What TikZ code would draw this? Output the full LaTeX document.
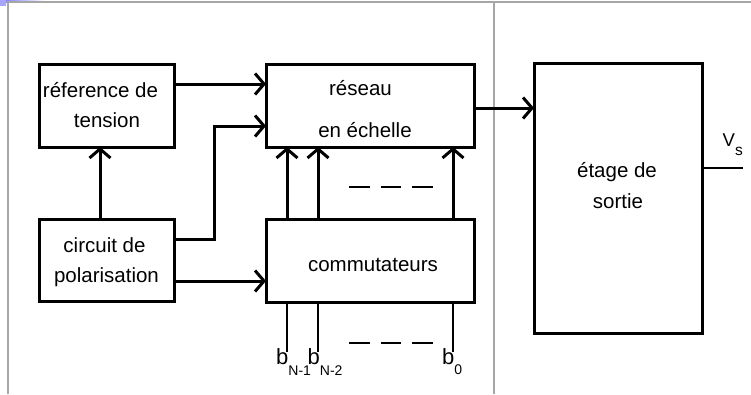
\documentclass[tikz,border=0pt]{standalone}
\usepackage{fontspec}
\setmainfont{Liberation Sans}
\usetikzlibrary{arrows.meta,calc}

\newcommand{\bodyfont}{\fontsize{20.5}{24}\selectfont}
\newcommand{\bitfont}{\fontsize{22}{24}\selectfont}
\newcommand{\voutfont}{\fontsize{18.5}{20}\selectfont}
\newcommand{\subfont}{\fontsize{14}{15}\selectfont}
\newcommand{\vsubfont}{\fontsize{15.5}{16}\selectfont}

\tikzset{
  blockbox/.style={draw, line width=3pt, rectangle, inner sep=0pt, outer sep=0pt},
  txt/.style={inner sep=0pt, anchor=base, font=\bodyfont},
  lab/.style={inner sep=0pt, anchor=base west},
  flow/.style={line width=3pt, -{Straight Barb[length=9pt,width=21pt]}},
  wire/.style={line width=1.3pt},
  gap/.style={line width=1.6pt, dash pattern=on 20.5pt off 11pt},
  frame/.style={draw=gray!70, line width=1.3pt}
}

\begin{document}
\begin{tikzpicture}[x=1pt, y=-1pt]
  \useasboundingbox (0,0) rectangle (751,394);

  % slide frame
  \shade[left color=blue!55, right color=white] (0,0) rectangle (45,2.5);
  \fill[blue!35] (0,0) rectangle (6,6);
  \draw[frame] (8,394) -- (8,2) -- (751,2);
  \draw[frame] (494,2) -- (494,394);

  % blocks
  \node[blockbox, minimum width=135pt, minimum height=83pt] (ref) at (106.5,105.5) {};
  \node[blockbox, minimum width=135pt, minimum height=82pt] (pol) at (106.5,260) {};
  \node[blockbox, minimum width=208pt, minimum height=83pt] (res) at (370,105.5) {};
  \node[blockbox, minimum width=208pt, minimum height=83pt] (com) at (370,260.5) {};
  \node[blockbox, minimum width=168pt, minimum height=270pt] (out) at (618,198) {};

  % block texts
  \node[txt] (t1) at (100.5,97) {réference de};
  \node[txt] (t2) at (107,127) {tension};
  \node[txt] (t3) at (360.5,95) {réseau};
  \node[txt] (t4) at (365,137) {en échelle};
  \node[txt] (t5) at (104.5,252) {circuit de};
  \node[txt] (t6) at (106.5,282) {polarisation};
  \node[txt] (t7) at (373,271) {commutateurs};
  \node[txt] (t8) at (617,177) {étage de};
  \node[txt] (t9) at (618,208) {sortie};

  % signal flow
  \draw[flow] ($(ref.north east)+(0,20)$) -- ($(res.north west)+(0,20)$);
  \draw[flow] ($(pol.north east)+(0,20)$) -| (214,126) -- ($(res.north west)+(0,62)$);
  \draw[flow] ($(pol.north east)+(0,62)$) -- ($(com.north west)+(0,62)$);
  \draw[flow] ($(pol.north west)+(61,0)$) -- ($(ref.south west)+(61,0)$);
  \draw[flow] ($(com.north west)+(21,0)$) -- ($(res.south west)+(21,0)$);
  \draw[flow] ($(com.north west)+(52,0)$) -- ($(res.south west)+(52,0)$);
  \draw[flow] ($(com.north west)+(187,0)$) -- ($(res.south west)+(187,0)$);
  \draw[flow] ($(res.north east)+(0,44)$) -- ($(out.north west)+(0,45)$);

  % ellipsis dashes
  \coordinate (d1a) at (349,187);
  \coordinate (d1b) at (433,187);
  \coordinate (d2a) at (349,343);
  \coordinate (d2b) at (433,343);
  \draw[gap] (d1a) -- (d1b);
  \draw[gap] (d2a) -- (d2b);

  % digital inputs
  \coordinate (bn1) at (287,352);
  \coordinate (bn2) at (318,352);
  \coordinate (bz) at (453,352);
  \draw[wire] ($(com.south west)+(21,0)$) -- (bn1);
  \draw[wire] ($(com.south west)+(52,0)$) -- (bn2);
  \draw[wire] ($(com.south west)+(187,0)$) -- (bz);
  \node[lab, font=\bitfont] (l1) at (276,364) {b\raisebox{-11pt}{\subfont N-1}};
  \node[lab, font=\bitfont] (l2) at (307.5,364) {b\raisebox{-11pt}{\subfont N-2}};
  \node[lab, font=\bitfont] (l3) at (442,364) {b\raisebox{-10pt}{\subfont 0}};

  % output
  \coordinate (vs) at (743,168);
  \draw[wire] ($(out.north east)+(0,105)$) -- (vs);
  \node[lab, font=\voutfont] (l4) at (722.5,146) {V\raisebox{-9pt}{\vsubfont s}};
\end{tikzpicture}
\end{document}
